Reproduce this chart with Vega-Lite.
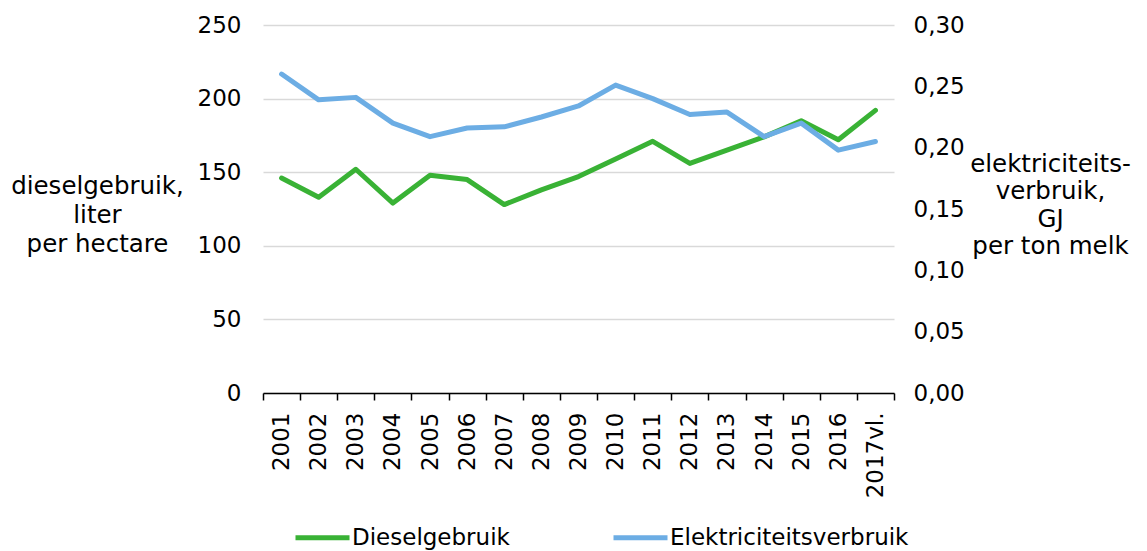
{
  "$schema": "https://vega.github.io/schema/vega-lite/v6.json",
  "autosize": "none",
  "width": 631,
  "height": 368,
  "padding": {"left": 263, "top": 25, "right": 253, "bottom": 158},
  "background": "white",
  "config": {
    "font": "DejaVu Sans",
    "view": {"stroke": null},
    "axis": {"labelFont": "DejaVu Sans", "titleFont": "DejaVu Sans", "labelColor": "#000000", "titleColor": "#000000", "labelFontSize": 23, "titleFontSize": 24.5, "titleFontWeight": "normal"},
    "legend": {"labelFont": "DejaVu Sans", "labelFontSize": 23, "labelColor": "#000000"}
  },
  "data": {"values": [
    {"year": "2001", "diesel": 146, "elek": 0.260},
    {"year": "2002", "diesel": 133, "elek": 0.239},
    {"year": "2003", "diesel": 152, "elek": 0.241},
    {"year": "2004", "diesel": 129, "elek": 0.220},
    {"year": "2005", "diesel": 148, "elek": 0.209},
    {"year": "2006", "diesel": 145, "elek": 0.216},
    {"year": "2007", "diesel": 128, "elek": 0.217},
    {"year": "2008", "diesel": 138, "elek": 0.225},
    {"year": "2009", "diesel": 147, "elek": 0.234},
    {"year": "2010", "diesel": 159, "elek": 0.251},
    {"year": "2011", "diesel": 171, "elek": 0.240},
    {"year": "2012", "diesel": 156, "elek": 0.227},
    {"year": "2013", "diesel": 165, "elek": 0.229},
    {"year": "2014", "diesel": 174, "elek": 0.209},
    {"year": "2015", "diesel": 185, "elek": 0.220},
    {"year": "2016", "diesel": 172, "elek": 0.198},
    {"year": "2017vl.", "diesel": 192, "elek": 0.205}
  ]},
  "encoding": {
    "x": {
      "field": "year", "type": "ordinal", "bandPosition": 0.5,
      "scale": {"type": "band", "paddingInner": 0, "paddingOuter": 0},
      "axis": {"title": null, "labelAngle": -90, "labelAlign": "right", "labelBaseline": "middle", "labelPadding": 12, "tickBand": "extent", "tickSize": 7, "tickColor": "#000000", "domainColor": "#000000", "domainWidth": 1.5, "tickWidth": 1.5, "grid": false}
    }
  },
  "layer": [
    {
      "mark": {"type": "line", "strokeWidth": 5, "strokeCap": "round", "strokeJoin": "round"},
      "encoding": {
        "y": {"field": "diesel", "type": "quantitative", "scale": {"domain": [0, 250]},
          "axis": {"values": [0, 50, 100, 150, 200, 250], "title": ["dieselgebruik,", "liter", "per hectare"], "titleAngle": 0, "titleAlign": "center", "titleBaseline": "alphabetic", "titleX": -166, "titleY": 168, "titleLineHeight": 29, "domain": false, "ticks": false, "labelPadding": 22, "grid": true, "gridColor": "#d9d9d9", "gridWidth": 1.5}},
        "color": {"datum": "Dieselgebruik"}
      }
    },
    {
      "mark": {"type": "line", "strokeWidth": 5, "strokeCap": "round", "strokeJoin": "round"},
      "encoding": {
        "y": {"field": "elek", "type": "quantitative", "scale": {"domain": [0, 0.3]},
          "axis": {"orient": "right", "values": [0, 0.05, 0.1, 0.15, 0.2, 0.25, 0.3], "labelExpr": "replace(format(datum.value, '.2f'), '.', ',')", "title": ["elektriciteits-", "verbruik,", "GJ", "per ton melk"], "titleAngle": 0, "titleAlign": "center", "titleBaseline": "alphabetic", "titleX": 156, "titleY": 146, "titleLineHeight": 27.5, "domain": false, "ticks": false, "labelPadding": 19, "grid": false}},
        "color": {
          "datum": "Elektriciteitsverbruik",
          "scale": {"domain": ["Dieselgebruik", "Elektriciteitsverbruik"], "range": ["#39b235", "#6cade4"]},
          "legend": {"title": null, "orient": "none", "legendX": 30, "legendY": 483, "direction": "horizontal", "symbolType": "stroke", "symbolStrokeWidth": 5, "symbolSize": 2916, "labelOffset": 0, "labelLimit": 400, "columnPadding": 93}
        }
      }
    }
  ],
  "resolve": {"scale": {"y": "independent"}}
}
